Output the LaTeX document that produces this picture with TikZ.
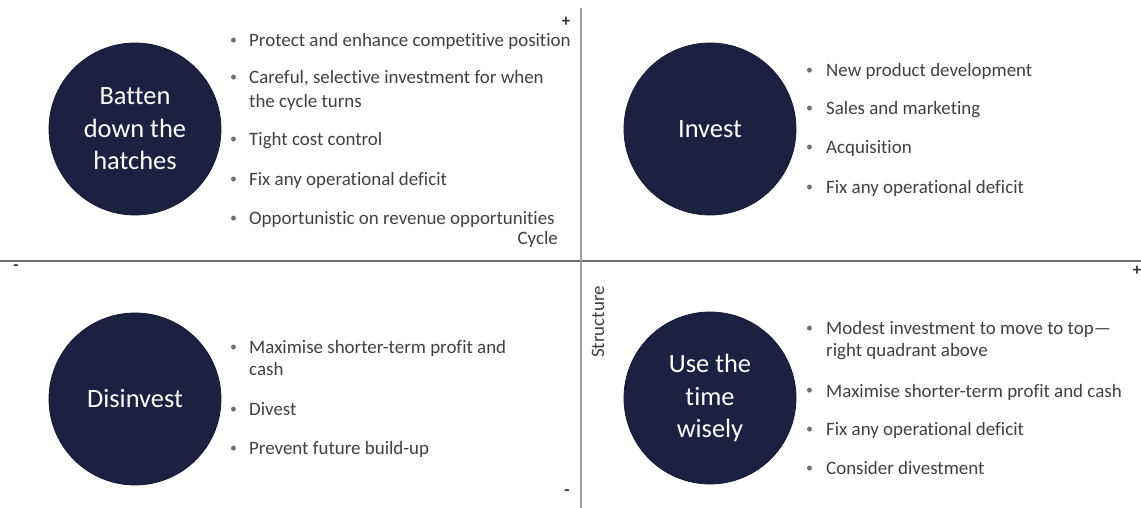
\documentclass[tikz,border=0pt]{standalone}
\usepackage{fontspec}
\setmainfont{Carlito}[Ligatures={NoCommon}]
\definecolor{navy}{RGB}{28,33,66}
\definecolor{txt}{RGB}{64,64,64}
\definecolor{hline}{RGB}{110,110,110}
\definecolor{vline}{RGB}{160,160,160}
\begin{document}
\begin{tikzpicture}[x=1bp,y=-1bp,
  blob/.style={circle,fill=navy,draw=navy!80!black,line width=0.8bp,minimum size=172bp,inner sep=0pt,text=white,align=center,font=\fontsize{26.5}{32.5}\selectfont},
  itemtext/.style={anchor=base west,inner sep=0pt,text=txt,font=\fontsize{19}{22}\selectfont},
  bul/.style={anchor=base west,inner sep=0pt,text=txt!75,font=\fontsize{14}{14}\selectfont,yshift=2bp},
  lbl/.style={inner sep=0pt,text=txt,font=\fontsize{19}{22}\selectfont},
  sign/.style={inner sep=0pt,text=black!80,font=\bfseries\fontsize{17}{17}\selectfont},
  axisline/.style={line width=1.5bp}]
\useasboundingbox (0,0) rectangle (1141,508);
% axes
\coordinate (hl) at (0,261);
\coordinate (hr) at (1141,261);
\coordinate (vt) at (581,8);
\coordinate (vb) at (581,508);
\draw[axisline,hline] (hl) -- (hr);
\draw[axisline,vline] (vt) -- (vb);
% signs
\node[sign] (ptop) at (566,22) {+};
\node[sign] (mleft) at (16,268) {-};
\node[sign] (pright) at (1137,271) {+};
\node[sign] (mbot) at (567,493) {-};
\node[lbl,anchor=base east] (cycle) at (558,245) {Cycle};
\node[lbl,rotate=90] (structure) at (598,322) {Structure};
% circles
\node[blob] (batten) at (135,129) {Batten\\down the\\hatches};
\node[blob] (invest) at (710,129) {Invest};
\node[blob] (disinvest) at (135,399) {Disinvest};
\node[blob] (usetime) at (710,398) {Use the\\time\\wisely};
% upper left
\node[bul] (b11) at (230,47) {•};
\node[itemtext] (t11) at (249,47) {Protect and enhance competitive position};
\node[bul] (b12) at (230,84) {•};
\node[itemtext] (t12) at (249,84) {Careful, selective investment for when};
\node[itemtext] (t12b) at (249,108) {the cycle turns};
\node[bul] (b13) at (230,146) {•};
\node[itemtext] (t13) at (249,146) {Tight cost control};
\node[bul] (b14) at (230,186) {•};
\node[itemtext] (t14) at (249,186) {Fix any operational deficit};
\node[bul] (b15) at (230,225) {•};
\node[itemtext] (t15) at (249,225) {Opportunistic on revenue opportunities};
% upper right
\node[bul] (b21) at (806,77) {•};
\node[itemtext] (t21) at (826,77) {New product development};
\node[bul] (b22) at (806,115) {•};
\node[itemtext] (t22) at (826,115) {Sales and marketing};
\node[bul] (b23) at (806,154) {•};
\node[itemtext] (t23) at (826,154) {Acquisition};
\node[bul] (b24) at (806,194) {•};
\node[itemtext] (t24) at (826,194) {Fix any operational deficit};
% lower left
\node[bul] (b31) at (230,354) {•};
\node[itemtext] (t31) at (249,354) {Maximise shorter-term profit and};
\node[itemtext] (t31b) at (249,376) {cash};
\node[bul] (b32) at (230,415) {•};
\node[itemtext] (t32) at (249,415) {Divest};
\node[bul] (b33) at (230,454) {•};
\node[itemtext] (t33) at (249,454) {Prevent future build-up};
% lower right
\node[bul] (b41) at (806,335) {•};
\node[itemtext] (t41) at (826,335) {Modest investment to move to top—};
\node[itemtext] (t41b) at (826,357) {right quadrant above};
\node[bul] (b42) at (806,397) {•};
\node[itemtext] (t42) at (826,397) {Maximise shorter-term profit and cash};
\node[bul] (b43) at (806,435) {•};
\node[itemtext] (t43) at (826,435) {Fix any operational deficit};
\node[bul] (b44) at (806,474) {•};
\node[itemtext] (t44) at (826,474) {Consider divestment};
\end{tikzpicture}
\end{document}
